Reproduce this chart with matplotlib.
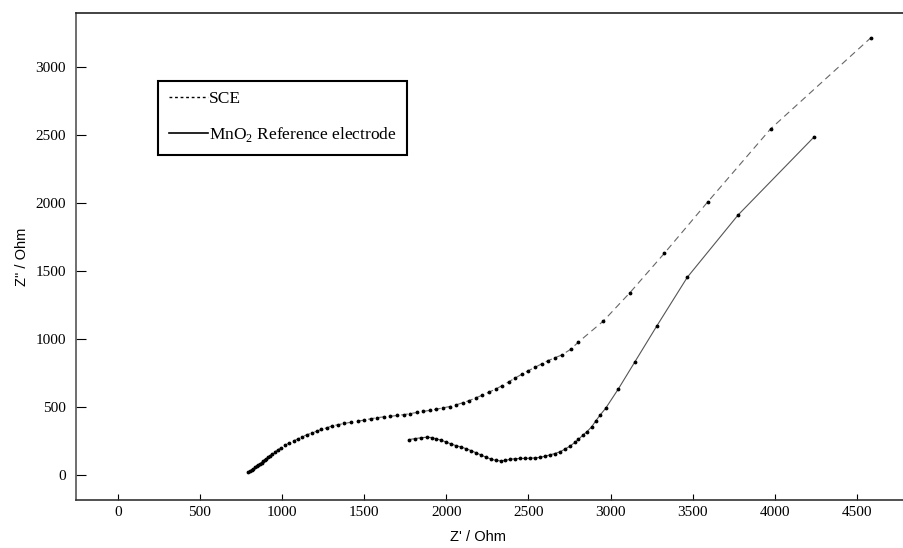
import matplotlib
matplotlib.use("Agg")
import matplotlib.pyplot as plt
from matplotlib.lines import Line2D

# SCE impedance (Z', Z'') in Ohm
sce_zre = [795, 805, 815, 825, 835, 845, 855, 865, 875, 885, 895, 905, 915, 925, 937,
           955, 975, 995, 1020, 1045, 1070, 1095, 1120, 1150, 1180, 1210, 1240, 1272,
           1305, 1340, 1380, 1420, 1460, 1500, 1540, 1580, 1620, 1660, 1700, 1740, 1780,
           1820, 1860, 1900, 1940, 1980, 2020, 2060, 2100, 2140, 2180, 2220, 2260, 2300,
           2340, 2380, 2420, 2460, 2500, 2540, 2580, 2620, 2660, 2702, 2757, 2804,
           2956, 3118, 3327, 3591, 3975, 4585]
sce_zim = [18, 28, 36, 45, 54, 63, 72, 81, 90, 99, 108, 118, 128, 138, 152,
           168, 184, 200, 218, 236, 250, 262, 278, 294, 306, 320, 334, 345,
           360, 368, 378, 386, 394, 402, 412, 420, 426, 430, 436, 442, 450,
           458, 466, 474, 482, 492, 502, 514, 530, 546, 566, 586, 608, 630,
           656, 684, 712, 740, 766, 790, 816, 840, 860, 881, 923, 976,
           1131, 1340, 1629, 2007, 2546, 3216]

# MnO2 reference electrode impedance
mno2_zre = [1770, 1810, 1845, 1880, 1910, 1940, 1970, 2000, 2030, 2060, 2090, 2120,
            2150, 2180, 2210, 2240, 2270, 2300, 2330, 2360, 2390, 2420, 2450, 2480,
            2510, 2540, 2570, 2600, 2630, 2660, 2692, 2723, 2753, 2783, 2804, 2830,
            2855, 2885, 2909, 2936, 2970, 3047, 3147, 3281, 3467, 3776, 4240]
mno2_zim = [258, 266, 272, 276, 274, 264, 254, 240, 226, 214, 204, 192,
            178, 162, 146, 130, 116, 106, 102, 106, 114, 118, 120, 120,
            122, 124, 128, 136, 146, 156, 169, 189, 211, 238, 260, 290,
            316, 353, 395, 439, 489, 631, 829, 1094, 1453, 1911, 2487]

xticks = [0, 500, 1000, 1500, 2000, 2500, 3000, 3500, 4000, 4500]
yticks = [0, 500, 1000, 1500, 2000, 2500, 3000]

serif = "Liberation Serif"
sans = "Liberation Sans"

fig = plt.figure(figsize=(9.04, 5.48), dpi=100, facecolor="white")
ax = fig.add_axes([75.7 / 904, 1 - 500.3 / 548, 1 - 75.7 / 904, (500.3 - 13.3) / 548])

ax.plot(sce_zre, sce_zim, color="#666666", lw=0.8, ls=(0, (6, 4)),
        marker=".", ms=3.5, mfc="black", mec="black")
ax.plot(mno2_zre, mno2_zim, color="#555555", lw=0.8, ls="-",
        marker=".", ms=3.5, mfc="black", mec="black")

ax.set_xlim(-256, 4786)
ax.set_ylim(-188, 3395)
ax.set_xticks(xticks)
ax.set_yticks(yticks)
ax.tick_params(axis="x", direction="in", length=4, width=0.8, pad=4, labelsize=11)
ax.tick_params(axis="y", direction="in", length=7, width=0.8, pad=7, labelsize=11)
for lab in ax.get_xticklabels() + ax.get_yticklabels():
    lab.set_fontfamily(serif)

ax.spines["right"].set_visible(False)
ax.spines["left"].set_color("#555555")
ax.spines["bottom"].set_color("#333333")
ax.spines["top"].set_color("#222222")
for s in ax.spines.values():
    s.set_linewidth(1.2)

ax.set_xlabel("Z' / Ohm", fontfamily=sans, fontsize=10.5)
ax.set_ylabel('Z" / Ohm', fontfamily=sans, fontsize=10.5)
ax.xaxis.set_label_coords((478 - 75.7) / (904 - 75.7), -(530 - 500.3) / (500.3 - 13.3))
ax.yaxis.set_label_coords(-(75.7 - 29) / (904 - 75.7), 0.5)

handles = [Line2D([], [], color="black", lw=1.0, ls=(0, (2, 2))),
           Line2D([], [], color="black", lw=1.2, ls="-")]
labels = ["SCE", "MnO$_\\mathregular{2}$ Reference electrode"]
leg = ax.legend(handles, labels, loc="upper left",
                bbox_to_anchor=(158.3 / 904, 1 - 80.7 / 548), bbox_transform=fig.transFigure,
                prop={"family": serif, "size": 12.5}, frameon=True, fancybox=False,
                edgecolor="black", handlelength=2.25, handletextpad=0.05,
                borderpad=0.6, labelspacing=1.05, borderaxespad=0)
leg.get_frame().set_linewidth(1.5)
leg.get_frame().set_alpha(1)

fig.savefig("out.png", dpi=100, facecolor="white")
